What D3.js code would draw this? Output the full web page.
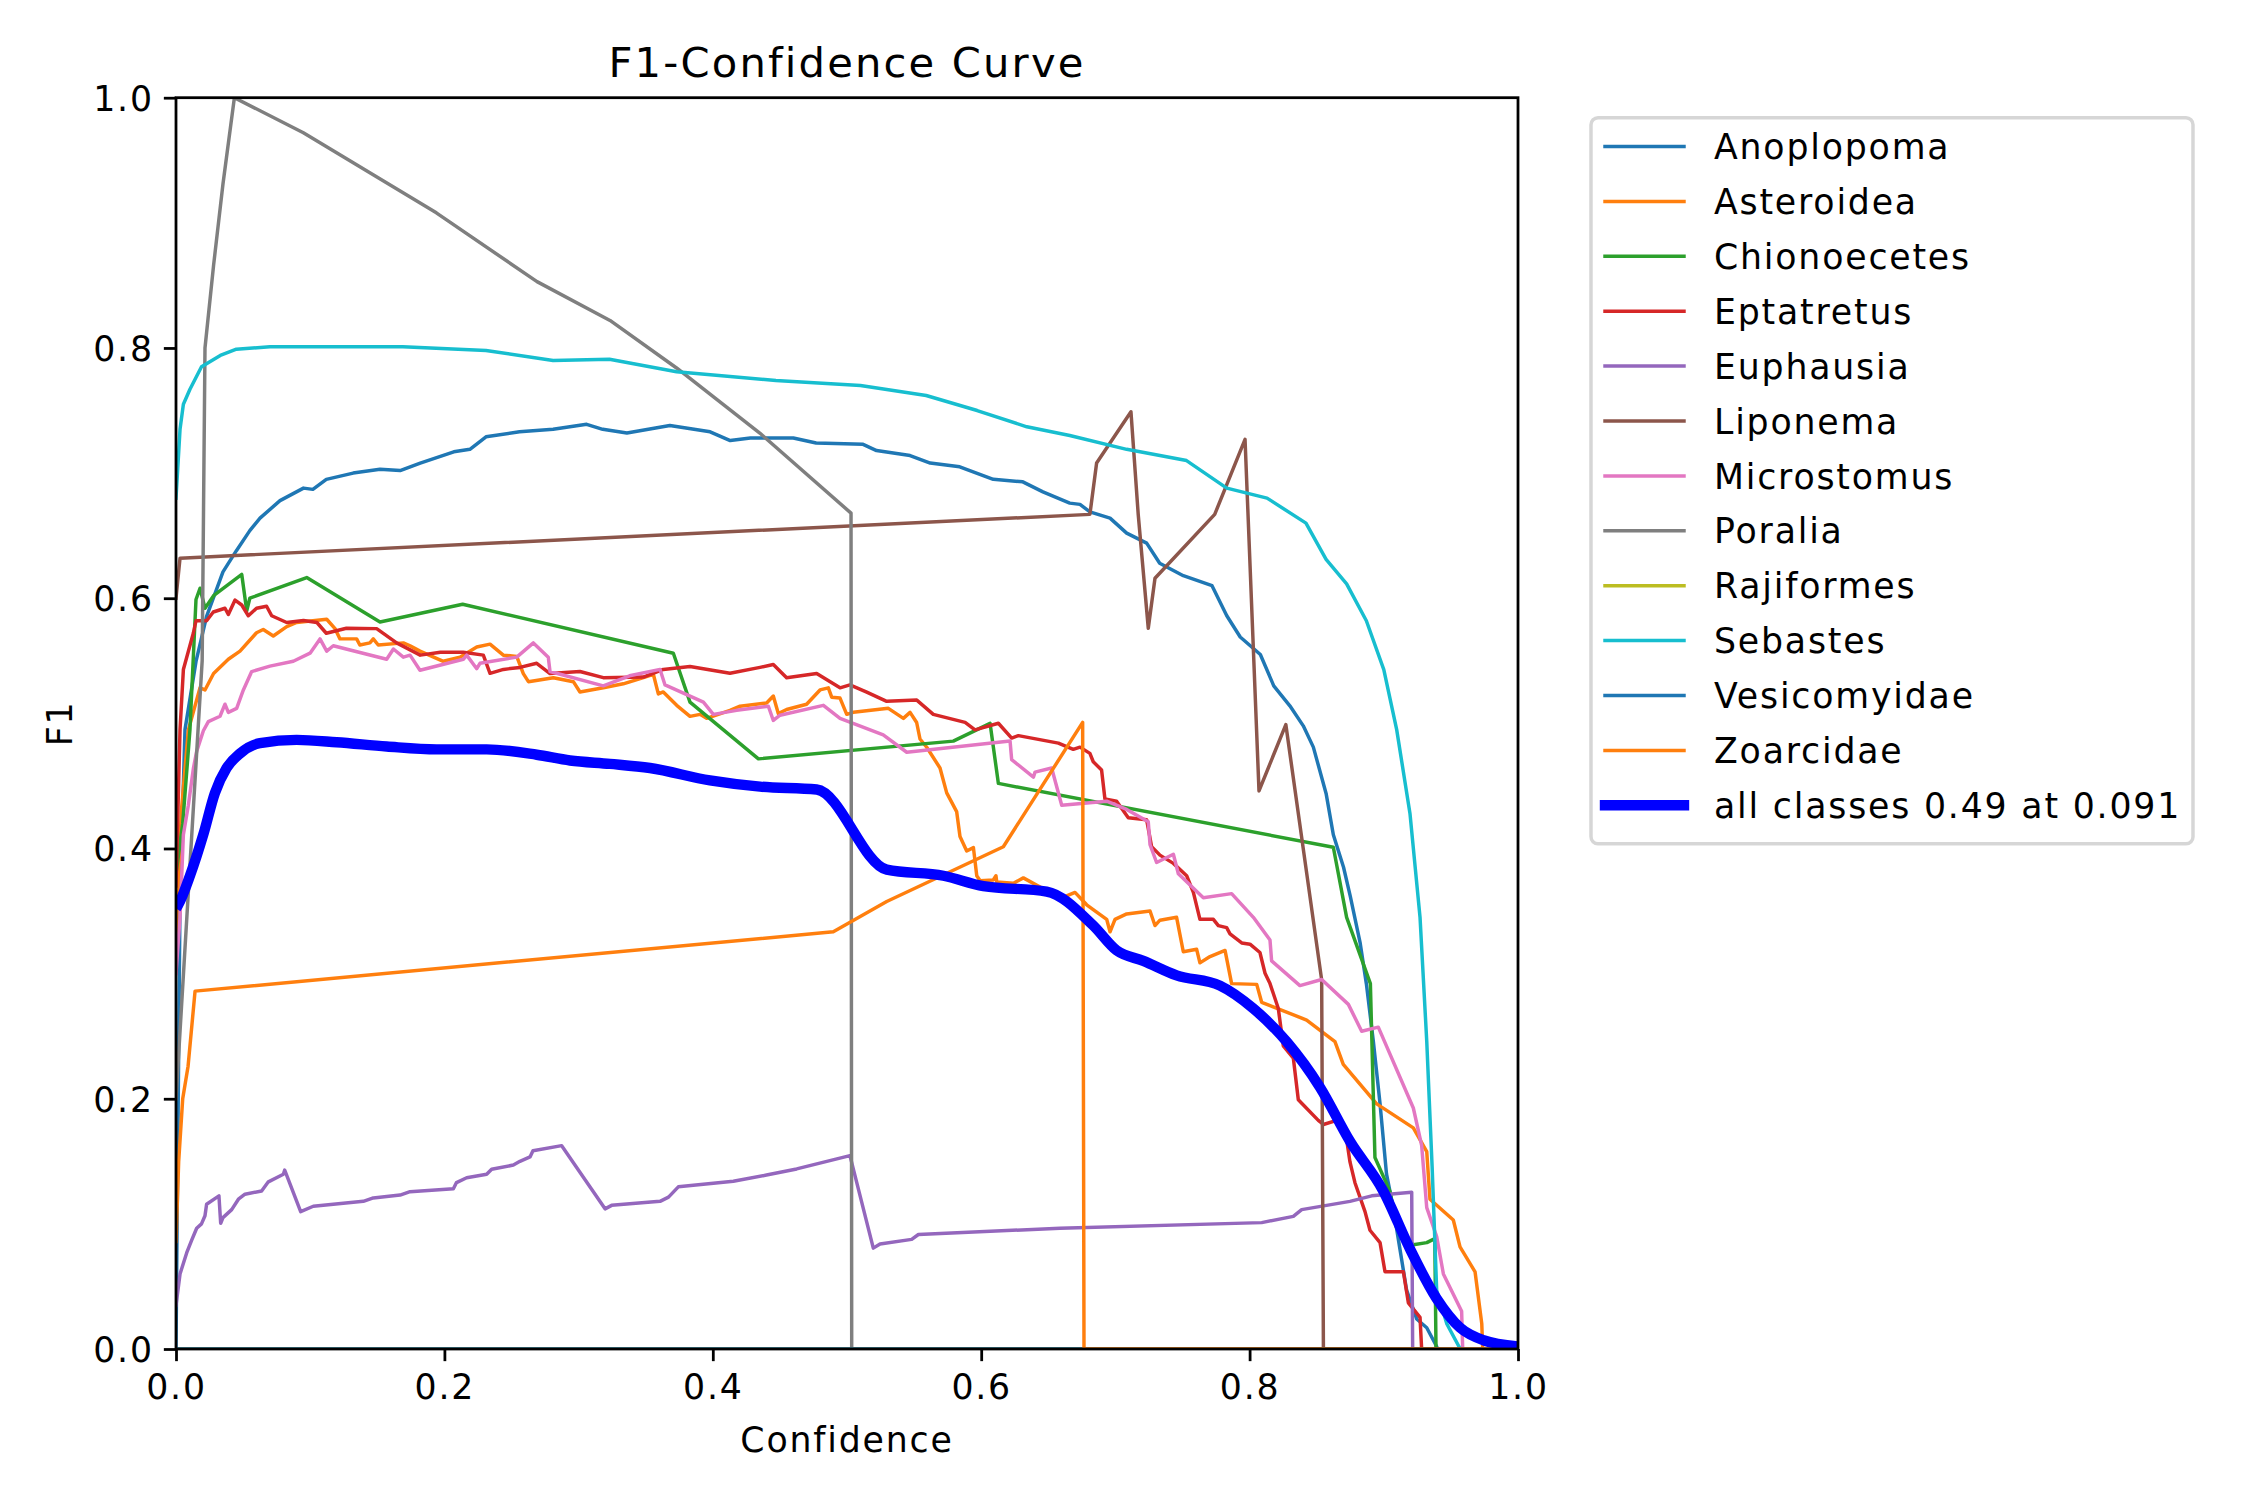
<!DOCTYPE html>
<html><head><meta charset="utf-8">
<script src="https://cdn.jsdelivr.net/npm/d3@7"></script>
<style>body{margin:0;background:#fff} text{font-family:"DejaVu Sans",sans-serif;letter-spacing:0.052em}</style>
</head><body><svg id="c" width="2250" height="1500"></svg>
<script>
// ---------- data (confidence, F1) ----------
const classNames = ["Anoplopoma","Asteroidea","Chionoecetes","Eptatretus","Euphausia","Liponema","Microstomus","Poralia","Rajiformes","Sebastes","Vesicomyidae","Zoarcidae"];
const xTicks = [0,0.2,0.4,0.6,0.8,1.0];
const yTicks = [0,0.2,0.4,0.6,0.8,1.0];
const allClassesLabel = "all classes 0.49 at 0.091";

const anoplopoma = [[0,0],[0.003,0.36],[0.0067,0.495],[0.015,0.55],[0.0228,0.5855],[0.035,0.621],[0.045,0.638],[0.055,0.654],[0.0626,0.664],[0.0775,0.678],[0.095,0.688],[0.102,0.687],[0.112,0.695],[0.132,0.700],[0.152,0.703],[0.167,0.702],[0.182,0.708],[0.207,0.717],[0.219,0.719],[0.231,0.729],[0.256,0.733],[0.281,0.735],[0.306,0.739],[0.318,0.735],[0.336,0.732],[0.368,0.738],[0.398,0.733],[0.413,0.726],[0.428,0.728],[0.460,0.728],[0.477,0.724],[0.512,0.723],[0.522,0.718],[0.547,0.714],[0.562,0.708],[0.584,0.705],[0.609,0.695],[0.631,0.693],[0.646,0.685],[0.666,0.676],[0.6736,0.675],[0.681,0.669],[0.696,0.664],[0.7084,0.652],[0.7233,0.644],[0.733,0.628],[0.7506,0.618],[0.772,0.610],[0.783,0.586],[0.793,0.569],[0.808,0.555],[0.818,0.530],[0.83,0.514],[0.840,0.498],[0.8475,0.481],[0.857,0.444],[0.8624,0.411],[0.870,0.385],[0.875,0.362],[0.8823,0.325],[0.887,0.292],[0.8922,0.246],[0.8972,0.196],[0.902,0.140],[0.907,0.113],[0.912,0.080],[0.917,0.047],[0.9245,0.024],[0.932,0.017],[0.9394,0.002],[0.94,0],[1,0]];
const asteroidea = [[0,0.33],[0.004,0.43],[0.0092,0.4946],[0.0179,0.5284],[0.0216,0.5267],[0.028,0.5398],[0.039,0.5512],[0.0477,0.5577],[0.06,0.5724],[0.065,0.575],[0.0725,0.5698],[0.0825,0.5773],[0.0899,0.5806],[0.1123,0.5832],[0.1185,0.5757],[0.1222,0.5675],[0.1346,0.5675],[0.137,0.5626],[0.1445,0.5643],[0.147,0.5675],[0.1507,0.5626],[0.1694,0.5643],[0.1744,0.562],[0.1818,0.5577],[0.1992,0.5496],[0.2116,0.5529],[0.2241,0.561],[0.234,0.5633],[0.2439,0.5545],[0.2539,0.5535],[0.2588,0.5398],[0.2626,0.5333],[0.2812,0.5365],[0.2961,0.5333],[0.301,0.5251],[0.3184,0.5284],[0.3333,0.5316],[0.3483,0.5365],[0.3557,0.5392],[0.3594,0.5235],[0.3631,0.5251],[0.3731,0.5144],[0.383,0.5056],[0.3905,0.5072],[0.3954,0.504],[0.4128,0.5104],[0.4203,0.5137],[0.4401,0.5163],[0.4451,0.5218],[0.4488,0.5078],[0.455,0.5111],[0.4699,0.5153],[0.4799,0.5267],[0.4861,0.5284],[0.4886,0.5209],[0.4948,0.5202],[0.4998,0.5072],[0.5047,0.5088],[0.5308,0.512],[0.542,0.504],[0.547,0.5088],[0.5519,0.5007],[0.5544,0.4875],[0.5594,0.4809],[0.5693,0.4643],[0.5743,0.4444],[0.5817,0.4295],[0.5842,0.4096],[0.5892,0.398],[0.5942,0.4007],[0.5967,0.3782],[0.5992,0.3742],[0.609,0.3748],[0.611,0.3782],[0.6116,0.3732],[0.624,0.3722],[0.6314,0.3765],[0.6513,0.3649],[0.6587,0.3599],[0.6699,0.3649],[0.6786,0.355],[0.6935,0.3434],[0.696,0.3334],[0.6997,0.3434],[0.7084,0.3477],[0.7258,0.35],[0.7295,0.3384],[0.7332,0.3427],[0.7456,0.345],[0.7506,0.3175],[0.7605,0.3195],[0.763,0.3086],[0.7705,0.3136],[0.7817,0.3185],[0.7866,0.292],[0.8053,0.2914],[0.809,0.2771],[0.8425,0.2629],[0.8636,0.2456],[0.8698,0.2274],[0.8947,0.1959],[0.922,0.1767],[0.932,0.1578],[0.9344,0.1197],[0.9518,0.1031],[0.9568,0.0816],[0.968,0.0617],[0.973,0.0203],[0.9737,0],[1,0]];
const chionoecetes = [[0,0.38],[0.005,0.42],[0.0104,0.495],[0.0149,0.599],[0.0179,0.608],[0.0216,0.592],[0.028,0.602],[0.049,0.619],[0.0527,0.590],[0.055,0.600],[0.0974,0.6165],[0.152,0.581],[0.2136,0.5952],[0.3706,0.556],[0.383,0.517],[0.434,0.4716],[0.5792,0.4858],[0.6066,0.500],[0.6128,0.452],[0.8624,0.401],[0.8723,0.345],[0.89,0.292],[0.8934,0.153],[0.9046,0.126],[0.9096,0.097],[0.922,0.0833],[0.932,0.085],[0.938,0.0882],[0.9389,0],[1,0]];
const eptatretus = [[0,0.37],[0.003,0.495],[0.0055,0.543],[0.0129,0.572],[0.0149,0.582],[0.0228,0.582],[0.0278,0.589],[0.0365,0.592],[0.039,0.587],[0.044,0.5985],[0.049,0.5946],[0.0539,0.586],[0.06,0.592],[0.0675,0.5936],[0.0713,0.586],[0.0825,0.5806],[0.095,0.5822],[0.105,0.5806],[0.112,0.572],[0.127,0.576],[0.1495,0.5757],[0.1644,0.5643],[0.182,0.5545],[0.197,0.5568],[0.214,0.5568],[0.229,0.5545],[0.234,0.540],[0.244,0.5431],[0.2563,0.5447],[0.2688,0.548],[0.2787,0.5398],[0.301,0.5414],[0.3184,0.5365],[0.3483,0.537],[0.3631,0.5431],[0.383,0.5454],[0.4128,0.540],[0.4352,0.5447],[0.4451,0.547],[0.455,0.5365],[0.4774,0.5398],[0.4948,0.5284],[0.5022,0.5307],[0.5147,0.525],[0.5296,0.5176],[0.552,0.5186],[0.5643,0.5072],[0.588,0.5008],[0.5954,0.4948],[0.6128,0.5001],[0.6227,0.4882],[0.6277,0.4902],[0.6575,0.4842],[0.6686,0.4792],[0.6736,0.481],[0.681,0.476],[0.6835,0.4693],[0.6897,0.4627],[0.6922,0.4395],[0.7009,0.4378],[0.7096,0.4246],[0.7233,0.4229],[0.727,0.4014],[0.7332,0.3947],[0.7432,0.3881],[0.7531,0.3782],[0.7581,0.3649],[0.763,0.3434],[0.773,0.3434],[0.7767,0.3384],[0.7829,0.3367],[0.7854,0.3318],[0.7941,0.3245],[0.8003,0.3235],[0.8077,0.3169],[0.8115,0.3003],[0.8152,0.292],[0.8214,0.2721],[0.8251,0.2423],[0.8326,0.2324],[0.8363,0.1992],[0.8512,0.1827],[0.855,0.1794],[0.8649,0.1827],[0.8711,0.176],[0.8748,0.1495],[0.8785,0.1329],[0.886,0.1098],[0.8897,0.0949],[0.8972,0.085],[0.9009,0.0617],[0.9146,0.0617],[0.9183,0.0369],[0.927,0.0253],[0.9282,0],[1,0]];
const euphausia = [[0,0.035],[0.003,0.06],[0.008,0.077],[0.0117,0.087],[0.0154,0.0965],[0.019,0.100],[0.0216,0.1065],[0.0228,0.1157],[0.032,0.1224],[0.0333,0.1005],[0.035,0.105],[0.0415,0.1114],[0.0465,0.1197],[0.0514,0.1237],[0.0638,0.1263],[0.0688,0.1336],[0.080,0.1396],[0.081,0.143],[0.0929,0.1098],[0.1023,0.1141],[0.1396,0.118],[0.147,0.1207],[0.167,0.123],[0.1744,0.1257],[0.2067,0.128],[0.209,0.133],[0.2166,0.1369],[0.2315,0.1396],[0.2352,0.1436],[0.2514,0.147],[0.2563,0.150],[0.2638,0.1535],[0.266,0.1585],[0.2874,0.1625],[0.3197,0.112],[0.3246,0.1148],[0.3607,0.118],[0.367,0.1214],[0.3743,0.1296],[0.4153,0.134],[0.44,0.139],[0.4625,0.1439],[0.5022,0.1545],[0.5196,0.0806],[0.5246,0.0839],[0.5482,0.0876],[0.5532,0.0915],[0.6587,0.0965],[0.809,0.101],[0.8326,0.106],[0.8388,0.1114],[0.8748,0.118],[0.891,0.1224],[0.9208,0.1253],[0.9215,0],[1,0]];
const liponema = [[0,0.60],[0.003,0.632],[0.681,0.667],[0.686,0.708],[0.7116,0.749],[0.717,0.667],[0.7245,0.576],[0.7295,0.616],[0.774,0.667],[0.7966,0.727],[0.807,0.446],[0.827,0.499],[0.8537,0.295],[0.855,0],[1,0]];
const microstomus = [[0,0.30],[0.003,0.345],[0.0055,0.411],[0.0092,0.4345],[0.013,0.4643],[0.0154,0.4776],[0.0204,0.4941],[0.0241,0.5014],[0.0328,0.5057],[0.0365,0.5153],[0.039,0.5088],[0.0452,0.512],[0.0502,0.5267],[0.0564,0.5414],[0.07,0.5457],[0.0874,0.5496],[0.0999,0.5561],[0.1073,0.5675],[0.1123,0.5577],[0.1172,0.562],[0.157,0.5512],[0.162,0.5594],[0.1694,0.5529],[0.1744,0.5545],[0.1818,0.5424],[0.2141,0.5512],[0.2166,0.5545],[0.2241,0.5437],[0.2265,0.548],[0.2539,0.5529],[0.2663,0.5643],[0.2774,0.5529],[0.2787,0.5414],[0.3184,0.530],[0.338,0.538],[0.3607,0.5431],[0.3644,0.5307],[0.393,0.5169],[0.4004,0.5072],[0.4178,0.5104],[0.4414,0.5137],[0.4451,0.5023],[0.4501,0.5065],[0.4824,0.5144],[0.4948,0.5039],[0.527,0.4908],[0.5445,0.4769],[0.6215,0.4859],[0.6227,0.471],[0.6389,0.457],[0.6401,0.461],[0.6525,0.4643],[0.66,0.4345],[0.6935,0.4378],[0.7084,0.4312],[0.7245,0.4213],[0.7258,0.403],[0.7307,0.3888],[0.7432,0.3954],[0.7469,0.3798],[0.7655,0.3606],[0.7866,0.3639],[0.8028,0.345],[0.8152,0.3268],[0.8164,0.3102],[0.8375,0.2904],[0.8537,0.2953],[0.8736,0.2754],[0.8835,0.2539],[0.8959,0.2572],[0.922,0.1926],[0.9282,0.1628],[0.932,0.113],[0.9394,0.0899],[0.9444,0.06],[0.958,0.0302],[0.9588,0],[1,0]];
const poralia = [[0,0.2],[0.0195,0.55],[0.0216,0.80],[0.028,0.866],[0.035,0.931],[0.0435,1.0],[0.0949,0.972],[0.194,0.908],[0.269,0.853],[0.3234,0.822],[0.373,0.784],[0.435,0.732],[0.503,0.668],[0.5035,0],[1,0]];
const rajiformes = [[0,0],[1,0]];
const sebastes = [[0,0.68],[0.003,0.735],[0.0055,0.755],[0.0104,0.767],[0.019,0.785],[0.033,0.794],[0.045,0.799],[0.07,0.801],[0.169,0.801],[0.231,0.798],[0.281,0.79],[0.323,0.791],[0.373,0.781],[0.447,0.774],[0.510,0.770],[0.559,0.762],[0.597,0.750],[0.634,0.737],[0.666,0.730],[0.7084,0.719],[0.753,0.710],[0.783,0.688],[0.813,0.680],[0.842,0.660],[0.857,0.631],[0.8723,0.6115],[0.887,0.582],[0.900,0.543],[0.9096,0.495],[0.9195,0.428],[0.927,0.345],[0.932,0.246],[0.936,0.146],[0.9394,0.047],[0.947,0.02],[0.957,0],[1,0]];
const vesicomyidae = [[0,0],[1,0]];
const zoarcidae = [[0,0.086],[0.002,0.15],[0.005,0.20],[0.009,0.226],[0.0142,0.286],[0.4898,0.3334],[0.5296,0.3576],[0.6165,0.4014],[0.6756,0.5008],[0.6766,0],[1,0]];
const allClasses = [[0,0.352],[0.0017,0.355],[0.0104,0.3782],[0.0204,0.4113],[0.029,0.4444],[0.0377,0.4643],[0.0477,0.4759],[0.0626,0.4842],[0.0899,0.4868],[0.1197,0.4849],[0.157,0.4815],[0.1942,0.4792],[0.2315,0.4792],[0.2688,0.4749],[0.2936,0.4703],[0.3234,0.4676],[0.3532,0.4643],[0.3979,0.4544],[0.4352,0.4494],[0.4774,0.4471],[0.5296,0.3831],[0.5718,0.3782],[0.6016,0.3699],[0.6488,0.3656],[0.6835,0.3384],[0.7009,0.3185],[0.7208,0.3102],[0.7456,0.2986],[0.7779,0.2904],[0.8028,0.2721],[0.8276,0.2456],[0.8524,0.2092],[0.8748,0.166],[0.8996,0.1263],[0.9195,0.08],[0.9394,0.0402],[0.9568,0.017],[0.9742,0.007],[1.0,0.002]];

const classSeries = [anoplopoma, asteroidea, chionoecetes, eptatretus, euphausia, liponema, microstomus, poralia, rajiformes, sebastes, vesicomyidae, zoarcidae];
const palette = ["#1f77b4","#ff7f0e","#2ca02c","#d62728","#9467bd","#8c564b","#e377c2","#7f7f7f","#bcbd22","#17becf"];

// ---------- drawing ----------
const FS = 34.72, LW = 3.47, SP = 2.78;
const svg = d3.select('#c');
svg.append('rect').attr('width',2250).attr('height',1500).attr('fill','#fff');

const L = 176, R = 1518, T = 97.7, B = 1349;
const x = d3.scaleLinear().domain([0,1]).range([L,R]);
const y = d3.scaleLinear().domain([0,1]).range([B,T]);

svg.append('defs').append('clipPath').attr('id','clip')
  .append('rect').attr('x',L).attr('y',T).attr('width',R-L).attr('height',B-T);

const plot = svg.append('g').attr('clip-path','url(#clip)');
const line = d3.line().x(d=>x(d[0])).y(d=>y(d[1]));
classSeries.forEach((s,i)=>{
  plot.append('path').attr('d', line(s)).attr('fill','none')
    .attr('stroke', palette[i % palette.length]).attr('stroke-width', LW)
    .attr('stroke-linejoin','round').attr('stroke-linecap','square');
});
const smoothLine = d3.line().x(d=>x(d[0])).y(d=>y(d[1])).curve(d3.curveMonotoneX);
plot.append('path').attr('d', smoothLine(allClasses)).attr('fill','none')
  .attr('stroke','blue').attr('stroke-width',10.4).attr('stroke-linejoin','round');

// axes
const fmt = d3.format('.1f');
const gx = svg.append('g').attr('transform',`translate(0,${B})`)
  .call(d3.axisBottom(x).tickValues(xTicks).tickFormat(fmt).tickSize(12.15).tickPadding(13));
const gy = svg.append('g').attr('transform',`translate(${L},0)`)
  .call(d3.axisLeft(y).tickValues(yTicks).tickFormat(fmt).tickSize(12.15).tickPadding(10));
[gx,gy].forEach(g=>{
  g.select('.domain').remove();
  g.attr('font-size',FS).attr('font-family','DejaVu Sans');
  g.selectAll('line').attr('stroke','#000').attr('stroke-width',SP);
  g.selectAll('text').attr('fill','#000');
});
gy.selectAll('text').attr('dy','0.36em');

// spines
svg.append('rect').attr('x',L).attr('y',T).attr('width',R-L).attr('height',B-T)
  .attr('fill','none').attr('stroke','#000').attr('stroke-width',SP).attr('stroke-linecap','square');

// labels
svg.append('text').attr('x',(L+R)/2).attr('y',77).attr('text-anchor','middle')
  .attr('font-size',41.67).attr('fill','#000').text('F1-Confidence Curve');
svg.append('text').attr('x',(L+R)/2).attr('y',1452).attr('text-anchor','middle')
  .attr('font-size',FS).attr('fill','#000').text('Confidence');
svg.append('text').attr('transform',`translate(72,${(T+B)/2}) rotate(-90)`).attr('text-anchor','middle')
  .attr('font-size',FS).attr('fill','#000').text('F1');

// legend
const lg = svg.append('g');
lg.append('rect').attr('x',1591).attr('y',117.7).attr('width',602).attr('height',726).attr('rx',7)
  .attr('fill','#fff').attr('fill-opacity',0.8).attr('stroke','#cccccc').attr('stroke-opacity',0.8).attr('stroke-width',LW);
const entries = classNames.map((n,i)=>({name:n, color:palette[i % palette.length], w:LW}))
  .concat([{name:allClassesLabel, color:'blue', w:10.4}]);
entries.forEach((e,i)=>{
  const ly = 146.5 + i*54.9;
  lg.append('line').attr('x1',1605).attr('x2',1684).attr('y1',ly).attr('y2',ly)
    .attr('stroke',e.color).attr('stroke-width',e.w).attr('stroke-linecap','square');
  lg.append('text').attr('x',1714).attr('y',ly+12.6).attr('font-size',FS).attr('fill','#000').text(e.name);
});
</script></body></html>
